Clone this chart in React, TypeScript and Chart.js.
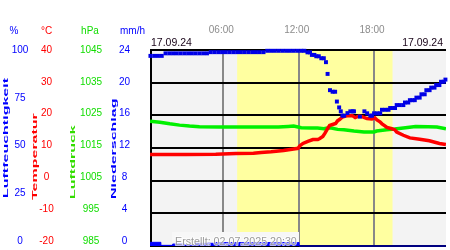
import React, { useEffect, useRef } from "react";
import { Chart, registerables } from "chart.js";

Chart.register(...registerables);

// ---- data (hours of the day / values) ----
const humTimes = [
  0.2, 0.5, 0.8, 1.1,
  1.4, 1.7, 2.0, 2.3, 2.6, 2.9, 3.2, 3.5, 3.8, 4.1, 4.4, 4.7,
  5.0, 5.3, 5.6, 5.9, 6.2, 6.5, 6.8, 7.1, 7.4, 7.7, 8.0, 8.3, 8.6, 8.9, 9.2,
  9.5, 9.8, 10.1, 10.4, 10.7, 11.0, 11.3, 11.6, 11.9, 12.2, 12.45,
  12.7, 12.9, 13.05, 13.25, 13.4, 13.6, 13.8, 14.0, 14.17, 14.3, 14.49,
  14.7, 14.9, 15.04, 15.22, 15.35, 15.48, 15.62, 15.88, 16.11, 16.3, 16.4,
  16.87, 17.23, 17.45, 17.7, 17.84, 18.0, 18.25, 18.49, 18.63, 18.9, 19.15,
  19.28, 19.5, 19.67, 19.8, 20.05, 20.33, 20.46, 20.72, 20.85, 21.05, 21.24,
  21.37, 21.63, 21.77, 22.03, 22.16, 22.42, 22.55, 22.81, 22.94, 23.2,
  23.33, 23.55, 23.68,
];
const humValues = [
  97, 97, 97, 97,
  98.3, 98.3, 98.3, 98.3, 98.3, 98.3, 98.3, 98.3, 98.3, 98.3, 98.3, 98.3,
  98.9, 98.9, 98.9, 98.9, 98.9, 98.9, 98.9, 98.9, 98.9, 98.9, 98.9, 98.9, 98.9, 98.9, 98.9,
  99.6, 99.6, 99.6, 99.6, 99.6, 99.6, 99.6, 99.6, 99.6, 99.6, 99.6,
  98.8, 98.8, 97.5, 97.5, 96.8, 96.8, 95.8, 95.8, 93.8, 87.8, 79.5,
  78.7, 78.7, 73.7, 70.7, 68.7, 66.5, 66.5, 67.8, 68.7, 68.7, 68.7,
  66, 68.7, 67.7, 66.5, 66.5, 67.7, 67.7, 67.7, 69.5, 69.5, 69.5,
  70.4, 70.4, 70.4, 71.9, 71.9, 71.9, 73.2, 73.2, 74.4, 74.4, 74.4,
  75.7, 75.7, 77.4, 77.4, 79.5, 79.5, 80.8, 80.8, 82.1, 82.1,
  83.8, 83.8, 84.9,
];

const tempTimes = [
  0.17, 3.0, 5.4, 7.0, 8.4, 9.0, 9.8, 10.8, 11.6, 11.95, 12.1, 12.34, 12.73,
  13.13, 13.52, 13.68, 13.92, 14.07, 14.3, 14.46, 14.7, 14.94, 15.09, 15.25,
  15.48, 15.72, 15.88, 16.27, 16.5, 16.8, 17.04, 17.43, 17.83, 18.07, 18.23,
  18.47, 18.63, 18.86, 19.02, 19.41, 19.64, 19.8, 20.33, 20.85, 21.63, 22.4,
  23.2, 23.72,
];
const tempValues = [
  8.0, 8.0, 8.05, 8.35, 8.4, 8.65, 8.86, 9.25, 9.7, 9.9, 10.7, 11.4, 12.05,
  12.6, 12.6, 12.9, 13.5, 14.4, 15.9, 16.9, 17.2, 17.5, 18.3, 18.7,
  19.5, 19.8, 19.9, 19.9, 19.3, 19.8, 19.6, 19.0, 18.9, 19.2, 18.6,
  18.0, 17.4, 16.8, 16.3, 15.9, 15.6, 14.9, 13.9, 13.1, 12.7, 12.2,
  11.4, 11.1,
];

const presTimes = [
  0.17, 0.95, 1.74, 2.52, 3.31, 4.1, 5.67, 8.0, 10.38, 11.16, 11.6, 12.2,
  13.0, 13.5, 14.0, 14.3, 14.6, 15.1, 15.6, 16.4, 17.2, 18.0, 18.2, 19.0,
  19.64, 20.5, 21.3, 22.3, 23.0, 23.72,
];
const presValues = [
  1023.2, 1022.9, 1022.4, 1022.0, 1021.7, 1021.5, 1021.4, 1021.4, 1021.4,
  1021.6, 1021.7, 1021.2, 1021.1, 1021.1, 1020.9, 1021.1, 1021.1, 1020.7,
  1020.6, 1020.2, 1019.9, 1019.9, 1020.2, 1020.6, 1020.8, 1021.2, 1021.6,
  1021.5, 1021.4, 1020.9,
];

const precTimes = [0.17, 1.03, 1.97, 2.91, 3.78, 5.27, 12.03, 23.72];
const precValues = [0.45, 0.08, 0.24, 0.12, 0.33, 0.42, 0, 0];

const humTicks = [0, 25, 50, 75, 100];
const tempTicks = [-20, -10, 0, 10, 20, 30, 40];
const presTicks = [985, 995, 1005, 1015, 1025, 1035, 1045];
const precTicks = [0, 4, 8, 12, 16, 20, 24];
const hourTicks = [6, 12, 18];
const hourLabels = ["06:00", "12:00", "18:00"];
const sunrise = 7.1;
const sunset = 19.47;
const dateLabel = "17.09.24";
const createdLabel = "Erstellt: 02.07.2025 20:30";

const FONT = '"Liberation Sans", Arial, Helvetica, sans-serif';

function pts(xs: number[], ys: number[]) {
  return xs.map((x, i) => ({ x, y: ys[i] }));
}

const decoPlugin = {
  id: "deco",
  beforeDraw(chart: any) {
    const { ctx, chartArea: a, scales } = chart;
    const xs = scales.x;
    const yT = scales.yTemp;
    ctx.save();
    ctx.fillStyle = "#f3f3f3";
    ctx.fillRect(a.left, a.top, a.right - a.left, a.bottom - a.top);
    const sx = xs.getPixelForValue(sunrise);
    const ex = xs.getPixelForValue(sunset);
    ctx.fillStyle = "#ffffa0";
    ctx.fillRect(sx, a.top, ex - sx, a.bottom - a.top);

    ctx.strokeStyle = "#888888";
    ctx.lineWidth = 2;
    hourTicks.forEach((h) => {
      const px = Math.round(xs.getPixelForValue(h));
      ctx.beginPath();
      ctx.moveTo(px, a.top);
      ctx.lineTo(px, a.bottom);
      ctx.stroke();
    });

    // light box behind the "created" note
    ctx.fillStyle = "#f7f7f7";
    ctx.fillRect(172, 232, 127, a.bottom - 232);

    ctx.strokeStyle = "#000000";
    ctx.lineWidth = 2;
    tempTicks.forEach((t) => {
      const py = Math.round(yT.getPixelForValue(t));
      ctx.beginPath();
      ctx.moveTo(a.left, py);
      ctx.lineTo(a.right, py);
      ctx.stroke();
    });
    ctx.beginPath();
    ctx.moveTo(a.left + 1, a.top);
    ctx.lineTo(a.left + 1, a.bottom);
    ctx.stroke();
    ctx.restore();
  },
  afterDraw(chart: any) {
    const { ctx, chartArea: a, scales } = chart;
    ctx.save();
    ctx.textBaseline = "middle";
    ctx.textAlign = "center";
    const comp = (a.bottom - 5 - a.top) / (a.bottom - a.top);
    const ly = (sc: any, v: number) => a.top + (sc.getPixelForValue(v) - a.top) * comp;

    ctx.font = "10px " + FONT;
    ctx.fillStyle = "#0000ff";
    humTicks.forEach((v) => ctx.fillText(String(v), 20, ly(scales.yHum, v)));
    ctx.fillStyle = "#ff0000";
    tempTicks.forEach((v) => ctx.fillText(String(v), 46.5, ly(scales.yTemp, v)));
    ctx.fillStyle = "#11dd00";
    presTicks.forEach((v) => ctx.fillText(String(v), 91, ly(scales.yPres, v)));
    ctx.fillStyle = "#0000ff";
    precTicks.forEach((v) => ctx.fillText(String(v), 124.5, ly(scales.yPrec, v)));

    // unit headers
    ctx.fillStyle = "#0000ff";
    ctx.fillText("%", 14, 31);
    ctx.fillStyle = "#ff0000";
    ctx.fillText("°C", 46.5, 31);
    ctx.fillStyle = "#11dd00";
    ctx.fillText("hPa", 90, 31);
    ctx.fillStyle = "#0000ff";
    ctx.fillText("mm/h", 132.5, 31);

    // hour labels
    ctx.fillStyle = "#8c8c8c";
    hourTicks.forEach((h, i) => ctx.fillText(hourLabels[i], scales.x.getPixelForValue(h) - 2, 30));

    // dates
    ctx.font = "10.5px " + FONT;
    ctx.fillStyle = "#1a061a";
    ctx.textAlign = "left";
    ctx.fillText(dateLabel, a.left + 1, 43.5);
    ctx.textAlign = "right";
    ctx.fillText(dateLabel, a.right - 3, 43.5);

    // created note
    ctx.font = "10.7px " + FONT;
    ctx.textAlign = "left";
    ctx.textBaseline = "alphabetic";
    ctx.lineJoin = "round";
    ctx.strokeStyle = "rgba(255,255,255,0.7)";
    ctx.lineWidth = 2;
    ctx.strokeText(createdLabel, 175, 245);
    ctx.fillStyle = "#999999";
    ctx.fillText(createdLabel, 175, 245);

    // rotated axis titles
    const titles: [string, string, number, number][] = [
      ["Luftfeuchtigkeit", "#0000ff", 8.3, 198],
      ["Temperatur", "#ff0000", 37.4, 200],
      ["Luftdruck", "#33dd00", 74.5, 199],
      ["Niederschlag", "#0000ff", 115.7, 199],
    ];
    ctx.font = "bold 8px " + FONT;
    titles.forEach(([t, c, x, y]) => {
      ctx.save();
      ctx.translate(x, y);
      ctx.rotate(-Math.PI / 2);
      ctx.scale(2, 1);
      ctx.fillStyle = c;
      ctx.textAlign = "left";
      ctx.textBaseline = "alphabetic";
      ctx.fillText(t, 0, 0);
      ctx.restore();
    });
    ctx.restore();
  },
};

export default function App() {
  const ref = useRef<HTMLCanvasElement | null>(null);
  useEffect(() => {
    document.body.style.margin = "0";
    if (!ref.current) return;
    const chart = new Chart(ref.current, {
      type: "line",
      data: {
        datasets: [
          {
            label: "Luftfeuchtigkeit",
            data: pts(humTimes, humValues),
            yAxisID: "yHum",
            showLine: false,
            pointStyle: "rect",
            pointRadius: 2.8,
            pointBackgroundColor: "#0000e6",
            pointBorderWidth: 0,
            clip: 6,
          } as any,
          {
            label: "Temperatur",
            data: pts(tempTimes, tempValues),
            yAxisID: "yTemp",
            borderColor: "#ff0000",
            borderWidth: 3.5,
            pointRadius: 0,
            tension: 0,
          },
          {
            label: "Luftdruck",
            data: pts(presTimes, presValues),
            yAxisID: "yPres",
            borderColor: "#00f000",
            borderWidth: 3.5,
            pointRadius: 0,
            tension: 0,
          },
          {
            label: "Niederschlag",
            data: pts(precTimes, precValues),
            yAxisID: "yPrec",
            stepped: "before",
            fill: "origin",
            backgroundColor: "#0000ff",
            borderColor: "#0000ff",
            borderWidth: 1,
            pointRadius: 0,
            clip: 2,
          } as any,
        ],
      },
      options: {
        responsive: false,
        animation: false,
        layout: { padding: { left: 150, top: 50, right: 0, bottom: 1 } },
        plugins: {
          legend: { display: false },
          tooltip: { enabled: false },
          filler: { drawTime: "beforeDatasetDraw" },
        } as any,
        events: [],
        scales: {
          x: { type: "linear", min: 0.165, max: 23.725, display: false },
          yHum: { type: "linear", min: 0, max: 100, display: false },
          yTemp: { type: "linear", min: -20, max: 40, display: false },
          yPres: { type: "linear", min: 985, max: 1045, display: false },
          yPrec: { type: "linear", min: 0, max: 24, display: false },
        },
      },
      plugins: [decoPlugin],
    });
    return () => chart.destroy();
  }, []);
  return (
    <div style={{ width: 450, height: 250, background: "#ffffff" }}>
      <canvas ref={ref} width={450} height={250} style={{ display: "block" }} />
    </div>
  );
}
